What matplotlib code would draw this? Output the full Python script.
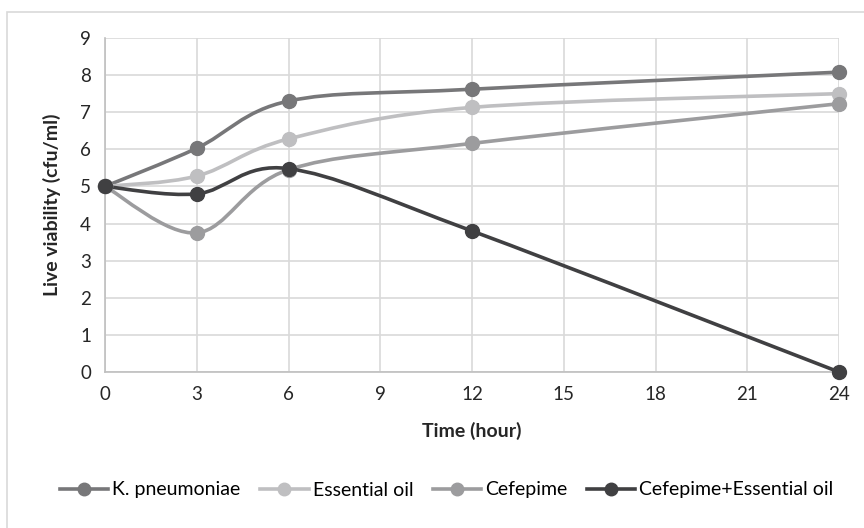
import matplotlib.pyplot as plt
from matplotlib.path import Path
from matplotlib.patches import PathPatch, Rectangle
from matplotlib.lines import Line2D
import numpy as np

plt.rcParams['font.family'] = ['Lato', 'DejaVu Sans']

hours = [0, 3, 6, 12, 24]
k_pneumoniae = [5.0, 6.03, 7.30, 7.62, 8.08]
essential_oil = [5.0, 5.28, 6.28, 7.13, 7.50]
cefepime = [5.0, 3.75, 5.45, 6.16, 7.23]
combo = [5.0, 4.80, 5.48, 3.80, 0.0]

names = ['K. pneumoniae', 'Essential oil', 'Cefepime', 'Cefepime+Essential oil']
colors = ['#777779', '#bfbfc1', '#9c9c9e', '#404042']
series = [k_pneumoniae, essential_oil, cefepime, combo]


def smooth_path(xs, ys):
    # Excel-like smoothing: Catmull-Rom segments as cubic Beziers
    pts = np.column_stack([xs, ys]).astype(float)
    n = len(pts)
    verts = [pts[0]]
    codes = [Path.MOVETO]
    for i in range(n - 1):
        p0 = pts[i - 1] if i > 0 else pts[i]
        p1 = pts[i]
        p2 = pts[i + 1]
        p3 = pts[i + 2] if i + 2 < n else pts[i + 1]
        c1 = p1 + (p2 - p0) / 6.0
        c2 = p2 - (p3 - p1) / 6.0
        verts += [c1, c2, p2]
        codes += [Path.CURVE4] * 3
    return Path(verts, codes)


fig = plt.figure(figsize=(8.64, 5.28), dpi=100)
fig.patches.append(Rectangle((7 / 864, -0.1), 1.2, 1 - 12 / 528 + 0.1,
                             transform=fig.transFigure, fill=False,
                             edgecolor='#d9d9d9', linewidth=1.2))
ax = fig.add_axes([105 / 864, 1 - 372 / 528, 734 / 864, 334 / 528])

for ys, c, name in zip(series, colors, names):
    ax.add_patch(PathPatch(smooth_path(hours, ys), facecolor='none',
                           edgecolor=c, linewidth=2.6, zorder=3,
                           capstyle='round'))
    ax.plot(hours, ys, linestyle='none', marker='o', markersize=10,
            color=c, zorder=4, clip_on=False)

ax.set_xlim(0, 24)
ax.set_ylim(0, 9)
ax.set_xticks(range(0, 25, 3))
ax.set_yticks(range(0, 10))
ax.grid(True, color='#d9d9d9', linewidth=1.2)
ax.set_axisbelow(True)
for s in ['top', 'right']:
    ax.spines[s].set_visible(False)
for s in ['left', 'bottom']:
    ax.spines[s].set_color('#bfbfbf')
    ax.spines[s].set_linewidth(1.2)
ax.tick_params(length=0, labelsize=13.5, colors='#262626', pad=10)
ax.set_xlabel('Time (hour)', fontsize=14, fontweight='bold',
              color='#262626', labelpad=14)
ax.set_ylabel('Live viability (cfu/ml)', fontsize=14, fontweight='bold',
              color='#262626', labelpad=14)

handles = [Line2D([], [], color=c, linewidth=2.6, marker='o', markersize=9)
           for c in colors]
fig.legend(handles, names, loc='center', bbox_to_anchor=(0.517, 1 - 490 / 528),
           ncol=4, frameon=False, fontsize=14, handlelength=2.5,
           handletextpad=0.2, columnspacing=1.0)

fig.savefig('out.png', dpi=100)
